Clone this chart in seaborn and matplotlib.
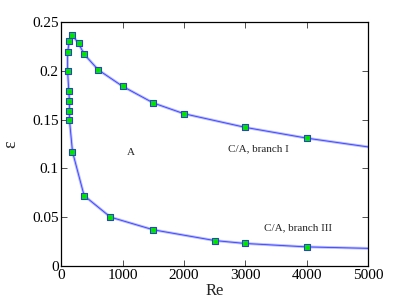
import matplotlib
matplotlib.use("Agg")
import matplotlib.pyplot as plt
import seaborn as sns
import pandas as pd

sns.set_style("white")
plt.rcParams['font.family'] = ['Liberation Serif', 'DejaVu Serif']
plt.rcParams['mathtext.fontset'] = 'stix'

# marker points (Re, epsilon), ordered along the curve
re_pts = [4000, 3000, 2000, 1500, 1000, 600, 370, 280, 170, 130, 100, 100,
          120, 130, 130, 130, 180, 370, 800, 1500, 2500, 3000, 4000]
eps_pts = [0.131, 0.142, 0.156, 0.167, 0.184, 0.201, 0.217, 0.228, 0.237, 0.231, 0.219, 0.200,
           0.179, 0.169, 0.159, 0.150, 0.117, 0.072, 0.050, 0.037, 0.026, 0.023, 0.0195]
# curve extends beyond markers to Re = 5000
re_line = [5000] + re_pts + [5000]
eps_line = [0.122] + eps_pts + [0.018]

xticks = [0, 1000, 2000, 3000, 4000, 5000]
yticks = [0, 0.05, 0.1, 0.15, 0.2, 0.25]
ytick_labels = ["0", "0.05", "0.1", "0.15", "0.2", "0.25"]

line_df = pd.DataFrame({"Re": re_line, "eps": eps_line})
pts_df = pd.DataFrame({"Re": re_pts, "eps": eps_pts})

fig = plt.figure(figsize=(4.07, 3.06), dpi=100)
ax = fig.add_axes([0.151, 0.131, 0.753, 0.797])

sns.lineplot(data=line_df, x="Re", y="eps", sort=False, ax=ax,
             color="#b4bcff", linewidth=2.0, estimator=None)
sns.lineplot(data=line_df, x="Re", y="eps", sort=False, ax=ax,
             color="#3c3cff", linewidth=0.6, estimator=None)
sns.scatterplot(data=pts_df, x="Re", y="eps", ax=ax, marker="s", s=19,
                color="#00e600", edgecolor="#2a44c8", linewidth=0.8, zorder=5)

ax.set_xlim(0, 5000)
ax.set_ylim(0, 0.25)
ax.set_xticks(xticks)
ax.set_xticklabels([str(t) for t in xticks])
ax.set_yticks(yticks)
ax.set_yticklabels(ytick_labels)
ax.tick_params(direction="in", length=4, width=0.6, labelsize=11, top=True, right=True,
               bottom=True, left=True, colors="#333333", labelcolor="black", pad=2)
for s in ax.spines.values():
    s.set_linewidth(0.9)
    s.set_color("black")

ax.set_xlabel("Re", fontsize=12, labelpad=1)
ax.set_ylabel("ε", fontsize=13, labelpad=9)

ax.text(1130, 0.1165, "A", fontsize=8, ha="center", va="center")
ax.text(3220, 0.1205, "C/A, branch I", fontsize=8, ha="center", va="center")
ax.text(3860, 0.0390, "C/A, branch III", fontsize=8, ha="center", va="center")

fig.savefig("out.png", dpi=100)
